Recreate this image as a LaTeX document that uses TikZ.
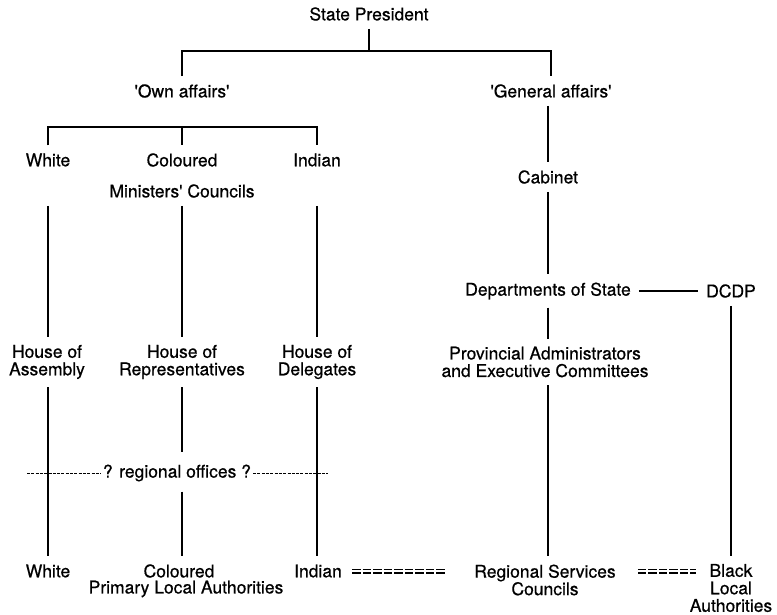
\documentclass[tikz,border=0pt]{standalone}
\usepackage{fontspec}
\setmainfont{TeX Gyre Heros}[FakeBold=0.6]
\usepackage{tikz}

\tikzset{
  lbl/.style={inner sep=8pt, align=center, font=\fontsize{17.5}{17.5}\selectfont},
  link/.style={line width=1.7pt},
  guess/.style={line width=1pt, dash pattern=on 3pt off 1.3pt},
  eqlink/.style={double, double distance=2.6pt, line width=1.2pt, dash pattern=on 8.5pt off 2pt},
}

\begin{document}
\begin{tikzpicture}[x=1pt,y=-1pt]
\useasboundingbox (0,0) rectangle (777,614);

% top of the tree
\node[lbl] (sp) at (369,14) {State President};
\node[lbl] (own) at (182,91) {\textquotesingle Own affairs\textquotesingle};
\node[lbl] (gen) at (551,91) {\textquotesingle General affairs\textquotesingle};
\coordinate (spbar) at (369,51);
\draw[link] (sp.south) -- (spbar);
\draw[link] (own.north) |- (spbar) -| (gen.north);

% 'own affairs' side
\node[lbl] (white) at (48,160) {White};
\node[lbl] (col) at (182,160) {Coloured};
\node[lbl] (ind) at (317,160) {Indian};
\node[lbl] (mc) at (182,191) {Ministers\textquotesingle\ Councils};
\coordinate (ownbar) at (182,127);
\draw[link] (white.north) |- (ownbar) -| (ind.north);
\draw[link] (ownbar) -- (col.north);

\node[lbl] (hoa) at (47,362) {House of\\Assembly};
\node[lbl] (hor) at (182,362) {House of\\Representatives};
\node[lbl] (hod) at (317,362) {House of\\Delegates};
\draw[link] (white |- mc.south) -- (white |- hoa.north);
\draw[link] (mc.south) -- (hor.north);
\draw[link] (ind |- mc.south) -- (ind |- hod.north);

% regional offices
\node[lbl, inner sep=2pt] (reg) at (177,473) {? regional offices ?};
\coordinate (regL) at (27,473);
\coordinate (regR) at (328,473);
\draw[guess] (regL) -- (reg.west);
\draw[guess] (reg.east) -- (regR);

% local level
\node[lbl] (wh2) at (48,571) {White};
\node[lbl] (co2) at (179,571) {Coloured};
\node[lbl] (pla) at (186,589) {Primary Local Authorities};
\node[lbl] (in2) at (318,571) {Indian};
\draw[link] (white |- hoa.south) -- (white |- wh2.north);
\draw[link, shorten >=10pt] (hor.south) -- (hor |- reg.north);
\draw[link, shorten <=8pt] (hor |- reg.south) -- (hor |- co2.north);
\draw[link] (ind |- hod.south) -- (ind |- in2.north);

% 'general affairs' side
\node[lbl] (cab) at (548,177) {Cabinet};
\node[lbl] (dos) at (548,291) {Departments of State};
\node[lbl] (dcdp) at (731,291) {DCDP};
\node[lbl] (pro) at (545,362) {Provincial Administrators\\and Executive Committees};
\node[lbl] (rsc) at (545,580) {Regional Services\\Councils};
\node[lbl] (bla) at (731,588) {Black\\Local\\Authorities};
\draw[link] (cab |- gen.south) -- (cab.north);
\draw[link] (cab.south) -- (dos.north);
\draw[link] (dos.east) -- (dcdp.west);
\draw[link] (dos.south) -- (dos |- pro.north);
\draw[link] (dos |- pro.south) -- (dos |- rsc.north);
\draw[link] (dcdp.south) -- (dcdp |- bla.north);

% ties between the two sides
\draw[eqlink, shorten <=2pt, shorten >=21pt] (in2.east) -- (in2.east -| rsc.west);
\draw[eqlink, shorten <=14pt, shorten >=-14pt] (rsc.east |- in2.east) -- (bla.west |- in2.east);
\end{tikzpicture}
\end{document}
